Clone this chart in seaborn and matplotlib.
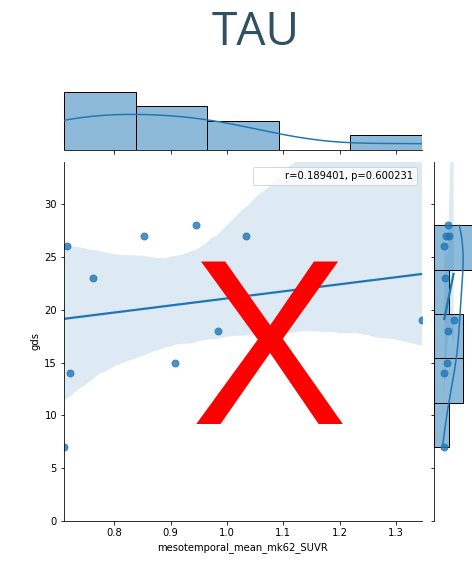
import matplotlib
matplotlib.use("Agg")
import matplotlib.pyplot as plt
from matplotlib.patches import Rectangle
import pandas as pd
import seaborn as sns

# Measurements per subject
suvr = [0.711, 0.716, 0.722, 0.763, 0.853, 0.908, 0.946, 0.985, 1.033, 1.346]
gds = [7, 26, 14, 23, 27, 15, 28, 18, 27, 19]

x_name = "mesotemporal_mean_mk62_SUVR"
y_name = "gds"
stat_label = "r=0.189401, p=0.600231"
title = "TAU"
mark = "X"

df = pd.DataFrame({x_name: suvr, y_name: gds})

DPI = 72
W, H = 472, 561


def box(left, top, right, bottom):
    """Pixel box (from the top-left corner) -> figure fraction rect."""
    return [left / W, 1 - bottom / H, (right - left) / W, (bottom - top) / H]


g = sns.jointplot(data=df, x=x_name, y=y_name, kind="reg", height=6, ratio=6,
                  color="C0", joint_kws={"seed": 0, "scatter_kws": {"s": 48}})

# regression overlaid on the y marginal as well
sns.regplot(data=df, x=x_name, y=y_name, ax=g.ax_marg_y, color="C0", seed=0,
            scatter_kws={"s": 48})
g.ax_marg_y.set(xlabel="", ylabel="")
plt.setp(g.ax_marg_y.get_xticklabels(), visible=False)
plt.setp(g.ax_marg_y.get_yticklabels(), visible=False)

g.ax_joint.set_xlim(min(suvr), max(suvr))
g.ax_joint.set_ylim(0, 34)
g.ax_joint.legend(handles=[Rectangle((0, 0), 1, 1, fc="none", ec="none")],
                  labels=[stat_label], loc="upper right")

fig = g.figure
fig.set_size_inches(W / DPI, H / DPI)
g.ax_joint.set_position(box(64, 162, 422, 521))
g.ax_marg_x.set_position(box(64, 89, 422, 150))
g.ax_marg_y.set_position(box(434, 162, 495, 521))

fig.text(255.5 / W, 1 - 45 / H, title, ha="center", va="baseline",
         fontsize=46, color="#2F4F62", family=["Open Sans", "DejaVu Sans"])
fig.text(269.5 / W, 1 - 424 / H, mark, ha="center", va="baseline",
         fontsize=235, color="#FF0000", family=["Liberation Sans", "DejaVu Sans"])

fig.savefig("out.png", dpi=DPI)
